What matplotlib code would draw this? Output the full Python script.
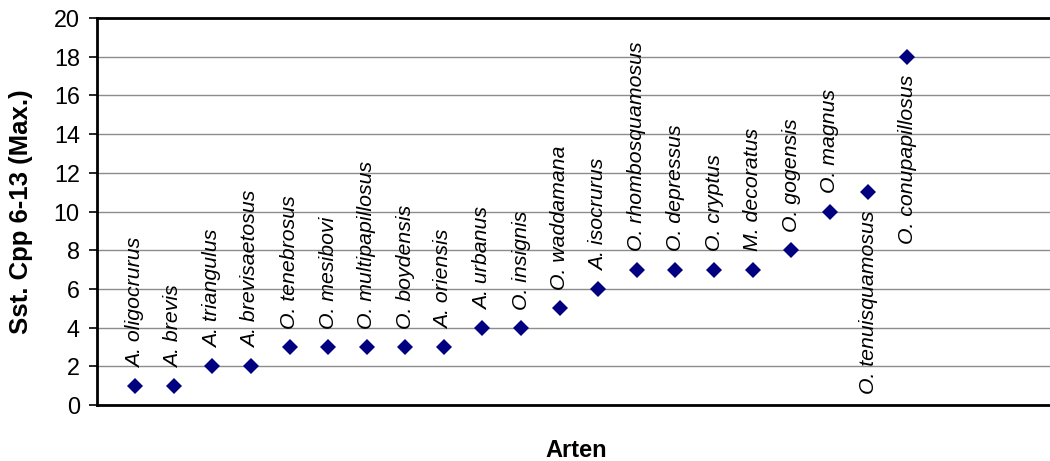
import matplotlib
matplotlib.use("Agg")
import matplotlib.pyplot as plt

plt.rcParams['font.family'] = ['Liberation Sans', 'DejaVu Sans']

species = [
    "A. oligocrurus", "A. brevis", "A. triangulus", "A. brevisaetosus",
    "O. tenebrosus", "O. mesibovi", "O. multipapillosus", "O. boydensis",
    "A. oriensis", "A. urbanus", "O. insignis", "O. waddamana",
    "A. isocrurus", "O. rhombosquamosus", "O. depressus", "O. cryptus",
    "M. decoratus", "O. gogensis", "O. magnus", "O. tenuisquamosus",
    "O. conupapillosus",
]
max_cpp = [1, 1, 2, 2, 3, 3, 3, 3, 3, 4, 4, 5, 6, 7, 7, 7, 7, 8, 10, 11, 18]
# species whose label sits below the marker instead of above
labels_below = {"O. tenuisquamosus", "O. conupapillosus"}

y_ticks = list(range(0, 21, 2))

W, H = 1050, 461
fig = plt.figure(figsize=(W / 100, H / 100), dpi=100)
left, right, top, bottom = 96.5, 1050, 18, 405
ax = fig.add_axes([left / W, 1 - bottom / H, (right - left) / W, (bottom - top) / H])

step = 38.6
ax.set_xlim(0, (right - left) / step)
ax.set_ylim(0, 20)

x = list(range(1, len(species) + 1))
ax.plot(x, max_cpp, linestyle="none", marker="D", markersize=7.8,
        color="#000080", markeredgewidth=0, zorder=3, clip_on=False)

for xi, yi, name in zip(x, max_cpp, species):
    if name in labels_below:
        ax.annotate(name, (xi, yi), xytext=(0, -13), textcoords="offset points",
                    rotation=90, ha="center", va="top", fontsize=15.3,
                    style="italic", color="black")
    else:
        ax.annotate(name, (xi, yi), xytext=(0, 13), textcoords="offset points",
                    rotation=90, ha="center", va="bottom", fontsize=15.3,
                    style="italic", color="black")

ax.set_yticks(y_ticks)
ax.set_yticklabels([str(t) for t in y_ticks], fontsize=16.8)
ax.set_xticks([])
ax.yaxis.grid(True, color="#8c8c8c", linewidth=1.0)
ax.set_axisbelow(True)
ax.tick_params(axis="y", direction="out", length=6, width=1.2, pad=6, color="black")

for side in ("left", "top", "bottom"):
    ax.spines[side].set_linewidth(2.0)
    ax.spines[side].set_color("black")
ax.spines["right"].set_visible(False)

ax.set_ylabel("Sst. Cpp 6-13 (Max.)", fontsize=18.5, fontweight="bold")
ax.yaxis.set_label_coords(-(96.5 - 21) / (right - left), (405 - 211.5) / (bottom - top))
ax.yaxis.label.set_va("center")
fig.text(576 / W, 1 - 450 / H, "Arten", fontsize=17, fontweight="bold",
         ha="center", va="center")

fig.savefig("out.png", dpi=100)
